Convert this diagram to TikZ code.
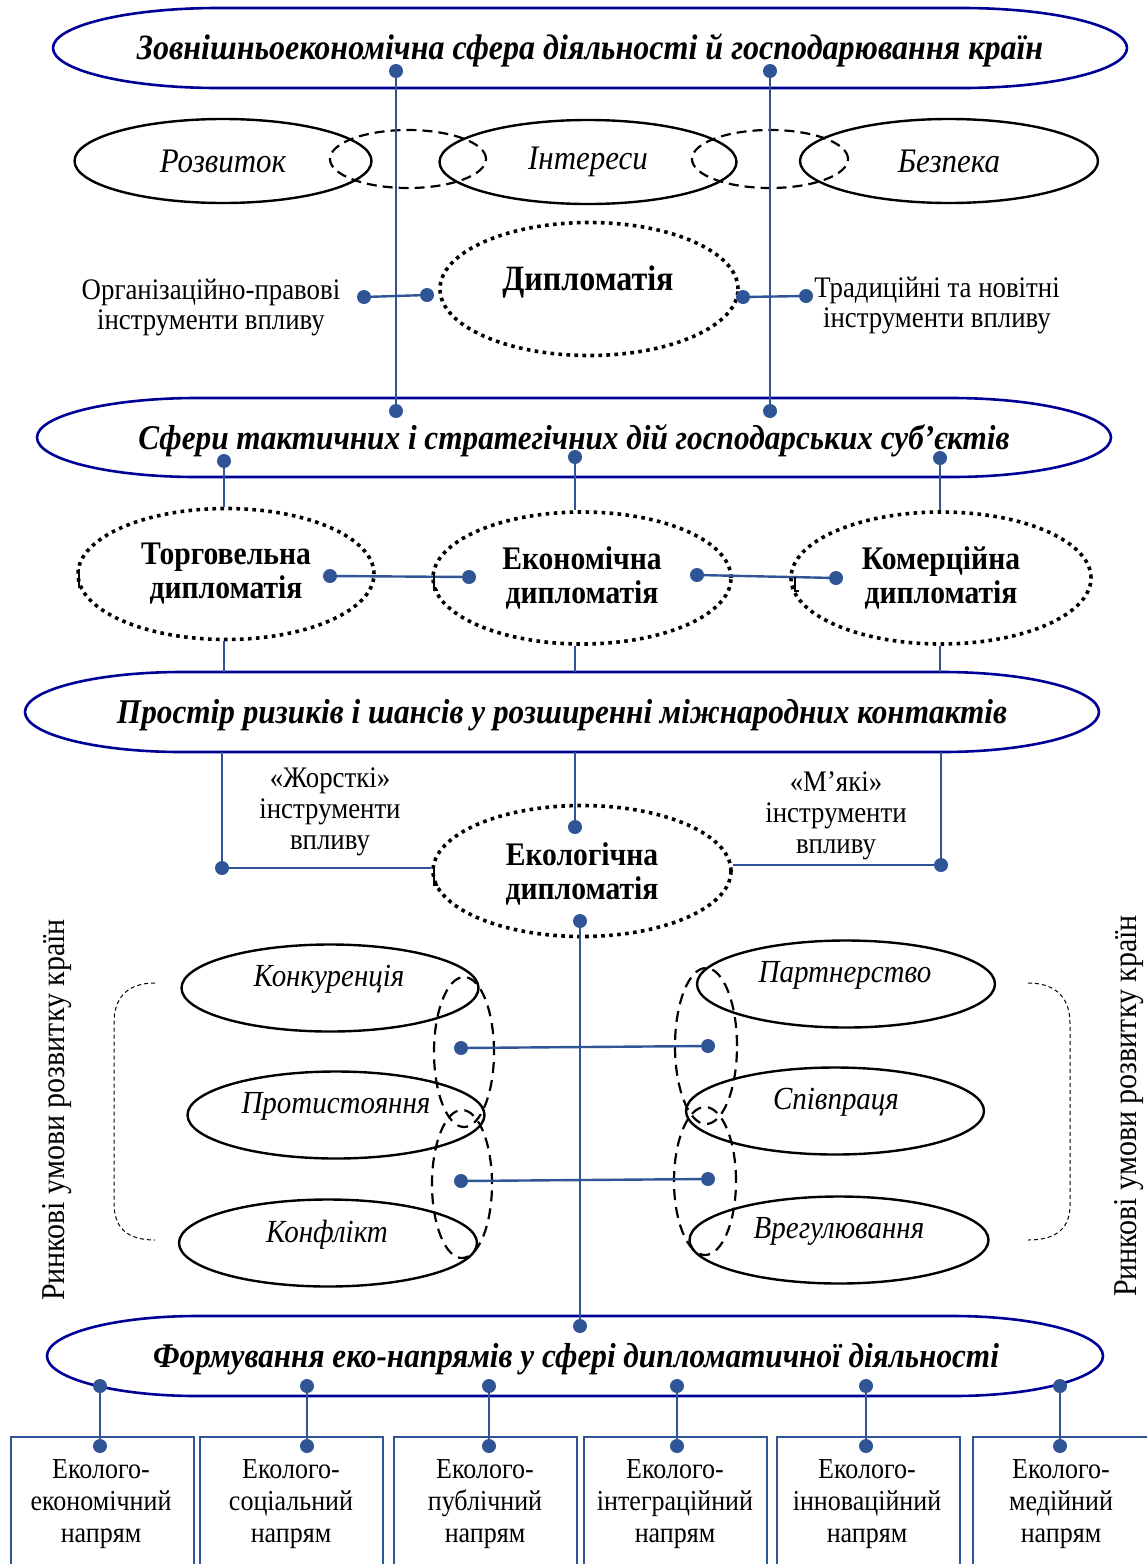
\documentclass[tikz,border=0pt]{standalone}
\usepackage{fontspec}
\setmainfont{Liberation Serif}[FakeStretch=0.9]
\usetikzlibrary{shapes.geometric}
\definecolor{navy}{RGB}{0,0,150}
\definecolor{lb}{RGB}{47,85,151}
\newcommand{\capsulepath}[5]{%
 \draw[capsule] ({#1-#3+#5},{#2-#4}) -- ({#1+#3-#5},{#2-#4})
   .. controls ({#1+#3-0.4477*#5},{#2-#4}) and ({#1+#3},{#2-0.5523*#4}) .. ({#1+#3},{#2})
   .. controls ({#1+#3},{#2+0.5523*#4}) and ({#1+#3-0.4477*#5},{#2+#4}) .. ({#1+#3-#5},{#2+#4})
   -- ({#1-#3+#5},{#2+#4})
   .. controls ({#1-#3+0.4477*#5},{#2+#4}) and ({#1-#3},{#2+0.5523*#4}) .. ({#1-#3},{#2})
   .. controls ({#1-#3},{#2-0.5523*#4}) and ({#1-#3+0.4477*#5},{#2-#4}) .. cycle;}
\tikzset{
 capsule/.style={draw=navy, line width=2.6pt},
 conn/.style={draw=lb, line width=2.4pt},
 dot/.style={circle, fill=lb, inner sep=0pt, minimum size=14pt},
 solidell/.style={ellipse, draw=black, line width=2.4pt, inner sep=0pt},
 dashell/.style={ellipse, draw=black, line width=2.2pt, dash pattern=on 10pt off 6pt, inner sep=0pt},
 grpdash/.style={ellipse, draw=black, line width=2.2pt, dash pattern=on 11pt off 7pt, inner sep=0pt},
 dotell/.style={ellipse, draw=black, line width=3.6pt, dash pattern=on 3.6pt off 4.4pt, inner sep=0pt},
 ttltop/.style={font=\fontsize{35.6}{40}\selectfont\bfseries\itshape, inner sep=0pt},
 ttl/.style={font=\fontsize{34.7}{40}\selectfont\bfseries\itshape, inner sep=0pt},
 itl/.style={font=\fontsize{34.4}{38}\selectfont\itshape},
 bld/.style={font=\fontsize{32.9}{34}\selectfont\bfseries, align=center},
 bldbig/.style={font=\fontsize{35.6}{38}\selectfont\bfseries, align=center},
 lbl/.style={font=\fontsize{29.8}{30}\selectfont, align=center, inner sep=0pt},
 lbl3/.style={font=\fontsize{29.8}{31}\selectfont, align=center, inner sep=0pt},
 boxtxt/.style={font=\fontsize{28.9}{32}\selectfont, align=center, inner sep=0pt},
 grp/.style={font=\fontsize{32.2}{36}\selectfont\itshape, inner sep=0pt},
 rot/.style={font=\fontsize{33.3}{36}\selectfont, rotate=90, inner sep=0pt},
 bbox/.style={draw=lb, line width=2.2pt, minimum width=183pt, minimum height=160pt, anchor=north west, inner sep=0pt},
 artf/.style={draw=black, line width=2.6pt},
 brk/.style={draw=black, line width=1pt, dash pattern=on 4pt off 3pt}
}
\begin{document}
\begin{tikzpicture}[x=1pt, y=-1pt]
\useasboundingbox (0,0) rectangle (1147,1564);
\fill[white] (0,0) rectangle (1147,1564);

% ---------- top capsule
\capsulepath{590}{48}{537}{40}{165}
\node[ttltop, minimum width=1074pt, minimum height=80pt] (zov) at (590,50) {Зовнішньоекономічна сфера діяльності й господарювання країн};
\node[dot] (zd1) at (396,71) {};
\node[dot] (zd2) at (770,71) {};

% ---------- row 2
\node[solidell, itl, minimum width=297pt, minimum height=84pt] (rozv) at (223,161) {Розвиток};
\node[solidell, itl, minimum width=297pt, minimum height=84pt] (inte) at (588,162) {Інтереси};
\node[solidell, itl, minimum width=298pt, minimum height=84pt] (bezp) at (949,161) {Безпека};
\node[dashell, minimum width=156pt, minimum height=58pt] (ov1) at (408,159) {};
\node[dashell, minimum width=156pt, minimum height=58pt] (ov2) at (770,159) {};

% ---------- diplomacy
\node[dotell, minimum width=298pt, minimum height=133pt] (dipl) at (589,289) {};
\node[bldbig, inner sep=0pt] (diplt) at (588,282) {Дипломатія};
\node[dot] (dl1) at (364,297) {};
\node[dot] (dl2) at (427,295) {};
\node[dot] (dr1) at (743,297) {};
\node[dot] (dr2) at (806,296) {};
\draw[conn] (dl1) -- (dl2);
\draw[conn] (dr1) -- (dr2);
\node[lbl] (orgt) at (211,308) {Організаційно-правові\\інструменти впливу};
\node[lbl] (tradt) at (937,306) {Традиційні та новітні\\інструменти впливу};

% ---------- second capsule
\capsulepath{574}{437.5}{537}{39.5}{160}
\node[ttl] (sfer) at (574,441) {Сфери тактичних і стратегічних дій господарських суб’єктів};
\node[dot] (sd1) at (396,411) {};
\node[dot] (sd2) at (770,411) {};
\draw[conn] (zd1) -- (sd1);
\draw[conn] (zd2) -- (sd2);
\node[dot] (sb1) at (224,461) {};
\node[dot] (sb2) at (575,457) {};
\node[dot] (sb3) at (940,458) {};

% ---------- row 3
\node[dotell, bld, minimum width=296pt, minimum height=131pt] (torg) at (226,574) {Торговельна\\дипломатія};
\node[dotell, bld, minimum width=298pt, minimum height=132pt] (ekon) at (582,578) {Економічна\\дипломатія};
\node[dotell, bld, minimum width=300pt, minimum height=132pt] (komr) at (941,578) {Комерційна\\дипломатія};
\draw[conn] (sb1) -- (sb1 |- torg.north);
\draw[conn] (sb2) -- (sb2 |- ekon.north);
\draw[conn] (sb3) -- (sb3 |- komr.north);
\node[dot] (r3a) at (330,576) {};
\node[dot] (r3b) at (469,577) {};
\node[dot] (r3c) at (697,575) {};
\node[dot] (r3d) at (836,578) {};
\draw[conn] (r3a) -- (r3b);
\draw[conn] (r3c) -- (r3d);
\draw[artf] (79,569) -- (79,587) -- (83,587);
\draw[artf] (434,574) -- (434,590) -- (438,590);
\draw[artf] (795,577) -- (795,591) -- (799,591);

% ---------- third capsule
\capsulepath{562}{712}{537}{40}{157}
\node[ttl] (pros) at (562,715) {Простір ризиків і шансів у розширенні міжнародних контактів};
\coordinate (prosT) at (562,672);
\coordinate (prosB) at (562,752);
\draw[conn] (torg.south -| sb1) -- (sb1 |- prosT);
\draw[conn] (ekon.south -| sb2) -- (sb2 |- prosT);
\draw[conn] (komr.south -| sb3) -- (sb3 |- prosT);

% ---------- ecological diplomacy
\node[dotell, minimum width=298pt, minimum height=131pt] (eco) at (582,871) {};
\node[bld, inner sep=0pt] (ecot) at (582,874) {Екологічна\\дипломатія};
\draw[artf] (434,869) -- (434,885) -- (438,885);
\node[dot] (pL) at (222,868) {};
\node[dot] (pM) at (575,827) {};
\node[dot] (pR) at (941,865) {};
\draw[conn] (pL |- prosB) -- (pL);
\draw[conn] (pM |- prosB) -- (pM);
\draw[conn] (pR |- prosB) -- (pR);
\draw[conn] (pL) -- (pL -| eco.west);
\draw[conn] (pR) -- (pR -| eco.east);
\node[lbl3] (hard) at (330,812) {«Жорсткі»\\інструменти\\впливу};
\node[lbl3] (soft) at (836,816) {«М’які»\\інструменти\\впливу};
\node[dot] (ecoB) at (580,921) {};

% ---------- left group
\node[solidell, minimum width=297pt, minimum height=87pt] (konk) at (330,988) {};
\node[grp] (konkt) at (329,979) {Конкуренція};
\node[solidell, minimum width=297pt, minimum height=87pt] (prot) at (336,1115) {};
\node[grp] (prott) at (336,1106) {Протистояння};
\node[solidell, minimum width=298pt, minimum height=87pt] (konf) at (328,1243) {};
\node[grp] (konft) at (327,1235) {Конфлікт};
\node[grpdash, minimum width=60pt, minimum height=150pt] (gl1) at (464,1052) {};
\node[grpdash, minimum width=60pt, minimum height=148pt] (gl2) at (462,1184) {};

% ---------- right group
\node[solidell, minimum width=298pt, minimum height=87pt] (part) at (846,984) {};
\node[grp] (partt) at (845,975) {Партнерство};
\node[solidell, minimum width=298pt, minimum height=87pt] (spiv) at (835,1111) {};
\node[grp] (spivt) at (836,1102) {Співпраця};
\node[solidell, minimum width=299pt, minimum height=87pt] (vreg) at (839,1240) {};
\node[grp] (vregt) at (839,1231) {Врегулювання};
\node[grpdash, minimum width=62pt, minimum height=156pt] (gr1) at (706,1046) {};
\node[grpdash, minimum width=62pt, minimum height=148pt] (gr2) at (705,1181) {};

\node[dot] (gL1) at (461,1048) {};
\node[dot] (gR1) at (708,1046) {};
\node[dot] (gL2) at (461,1181) {};
\node[dot] (gR2) at (708,1179) {};
\draw[conn] (gL1) -- (gR1);
\draw[conn] (gL2) -- (gR2);

% brackets
\draw[brk] (155,983) .. controls (125,983) and (114,1000) .. (114,1023) -- (114,1203) .. controls (114,1226) and (125,1240) .. (155,1240);
\draw[brk] (1028,983) .. controls (1058,983) and (1070,1000) .. (1070,1023) -- (1070,1205) .. controls (1070,1227) and (1058,1240) .. (1028,1240);

\node[rot] (rl) at (57,1110) {Ринкові умови розвитку країн};
\node[rot] (rr) at (1129,1106) {Ринкові умови розвитку країн};

% ---------- bottom capsule
\capsulepath{575}{1356}{528}{40}{150}
\node[ttl] (form) at (576,1359) {Формування еко-напрямів у сфері дипломатичної діяльності};
\node[dot] (fTop) at (580,1326) {};
\draw[conn] (ecoB) -- (fTop);

% ---------- boxes
\node[bbox] (b1) at (10,1436) {};
\node[bbox] (b2) at (199,1436) {};
\node[bbox] (b3) at (393,1436) {};
\node[bbox] (b4) at (583,1436) {};
\node[bbox] (b5) at (776,1436) {};
\node[bbox] (b6) at (972,1436) {};
\node[boxtxt] (b1t) at (101,1504) {Еколого-\\економічний\\напрям};
\node[boxtxt] (b2t) at (291,1504) {Еколого-\\соціальний\\напрям};
\node[boxtxt] (b3t) at (485,1504) {Еколого-\\публічний\\напрям};
\node[boxtxt] (b4t) at (675,1504) {Еколого-\\інтеграційний\\напрям};
\node[boxtxt] (b5t) at (867,1504) {Еколого-\\інноваційний\\напрям};
\node[boxtxt] (b6t) at (1061,1504) {Еколого-\\медійний\\напрям};

\foreach \i/\xx in {1/100,2/307,3/489,4/677,5/866,6/1060}{
  \node[dot] (fe\i) at (\xx,1386) {};
  \node[dot] (fb\i) at (\xx,1446) {};
  \draw[conn] (fe\i) -- (fb\i);
}
\end{tikzpicture}
\end{document}
